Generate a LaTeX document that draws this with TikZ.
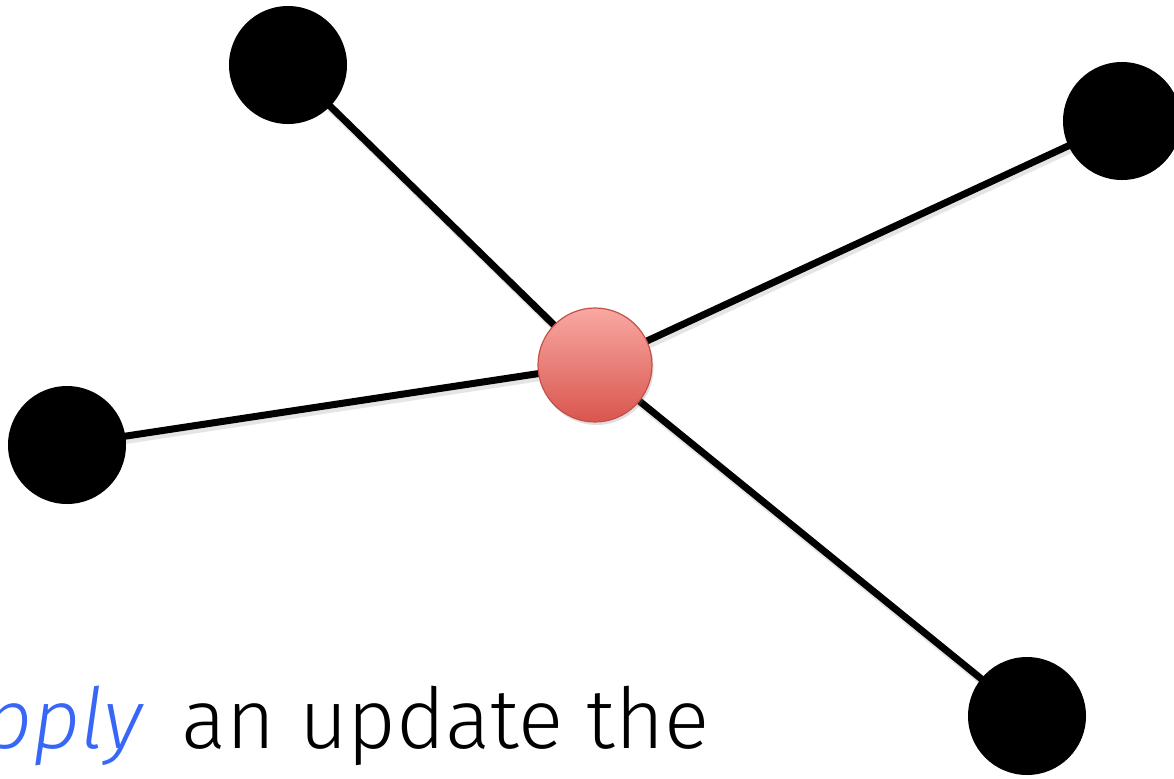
\documentclass[tikz,border=0pt]{standalone}
\usepackage{fontspec}
\newfontfamily\gill{Fira Sans Light}
\usetikzlibrary{shadows,backgrounds}

\definecolor{xanh}{RGB}{56,102,246}
\definecolor{dotren}{RGB}{249,168,162}
\definecolor{doduoi}{RGB}{216,86,78}
\definecolor{vien}{RGB}{196,80,74}

\begin{document}
\begin{tikzpicture}[x=0.5pt,y=-0.5pt]

% Kiểu vẽ
\tikzset{
  dinh/.style={circle,fill=black,inner sep=0,minimum size=59pt},
  tam/.style={circle,inner sep=0,minimum size=57pt,
    top color=dotren,bottom color=doduoi,draw=vien,line width=0.6pt,
    drop shadow={opacity=0.25,shadow xshift=0.8pt,shadow yshift=-1.5pt}},
  canh/.style={line width=3.5pt},
  bong/.style={line width=3.5pt,black!10}
}

% Khung
\useasboundingbox (0,0) rectangle (1174,778);
\clip (0,0) rectangle (1174,778);

% Các đỉnh
\node[dinh] (A) at (288,65) {};
\node[dinh] (B) at (1122,121) {};
\node[dinh] (C) at (67,445) {};
\node[dinh] (D) at (1027,716) {};

% Đỉnh giữa
\node[tam] (O) at (595,365) {};

% Các cạnh (nằm dưới các đỉnh)
\begin{pgfonlayer}{background}
\foreach \v in {A,B,C,D}
  \draw[bong] ([shift={(2,4)}]O.center) -- ([shift={(2,4)}]\v.center);
\foreach \v in {A,B,C,D}
  \draw[canh] (O.center) -- (\v.center);
\end{pgfonlayer}

% Dòng chữ
\node[anchor=base west,inner sep=0,font=\gill\fontsize{42}{50}\selectfont]
  (chu) at (-16,748) {\textcolor{xanh}{\itshape pply}\hspace{8pt} an update the};

\end{tikzpicture}
\end{document}
